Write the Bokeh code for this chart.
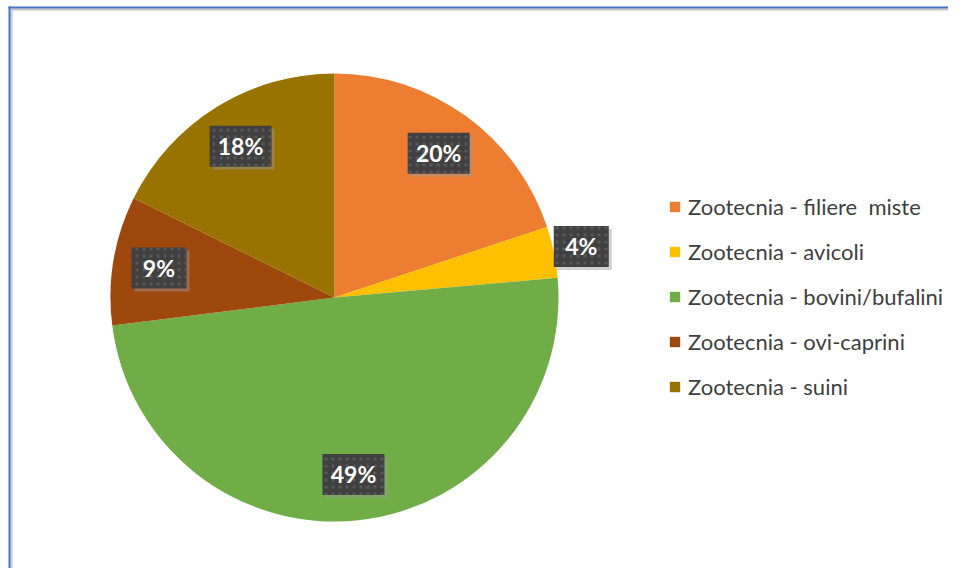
import math
from bokeh.plotting import figure
from bokeh.models import Range1d, ColumnDataSource, Legend, LegendItem
from bokeh.core.properties import value
from bokeh.embed import file_html
from bokeh.resources import INLINE

categories = [
    "Zootecnia - filiere  miste",
    "Zootecnia - avicoli",
    "Zootecnia - bovini/bufalini",
    "Zootecnia - ovi-caprini",
    "Zootecnia - suini",
]
shares = [19.9, 3.7, 49.4, 9.3, 17.7]
colors = ["#ED7D31", "#FFC000", "#70AD47", "#9E480E", "#997300"]

W, H = 948, 568
CX, CY, R = 334, 271, 224

total = sum(shares)
starts, ends, mids = [], [], []
cum = 0.0
for s in shares:
    a0 = cum / total
    cum += s
    a1 = cum / total
    starts.append(math.pi / 2 - a1 * 2 * math.pi)
    ends.append(math.pi / 2 - a0 * 2 * math.pi)
    mids.append(math.pi / 2 - (a0 + a1) / 2 * 2 * math.pi)

lab_r = [252 if s / total < 0.05 else 178 for s in shares]
lx = [CX + r * math.cos(m) for r, m in zip(lab_r, mids)]
ly = [CY + r * math.sin(m) for r, m in zip(lab_r, mids)]
labels = [f"{round(100 * s / total)}%" for s in shares]
box_w = [len(t) * 7 + 41 for t in labels]

p = figure(width=W, height=H, output_backend="svg", toolbar_location=None,
           x_range=Range1d(0, W), y_range=Range1d(0, H),
           min_border=0, outline_line_alpha=0)
p.axis.visible = False
p.grid.visible = False
p.background_fill_color = "white"
p.border_fill_color = "white"

# chart frame (top and left edges)
p.segment(x0=[10, 11], y0=[H - 9, H - 9], x1=[W, 11], y1=[H - 9, 0],
          line_color="#c8c8c8", line_width=2)
p.segment(x0=[8, 9], y0=[H - 7, H - 6], x1=[W, 9], y1=[H - 7, 0],
          line_color="#4472C4", line_width=2)

renderers = []
for i in range(len(shares)):
    r = p.wedge(x=CX, y=CY, radius=R, start_angle=starts[i], end_angle=ends[i],
                fill_color=colors[i], line_color=None)
    renderers.append(r)

src = ColumnDataSource(dict(x=lx, y=ly, t=labels, w=box_w,
                            sx=[x + 3 for x in lx], sy=[y - 3 for y in ly]))
p.rect(x="sx", y="sy", width="w", height=41, width_units="screen", height_units="screen",
       source=src, fill_color="#9a9a9a", fill_alpha=0.45, line_color=None)
p.rect(x="x", y="y", width="w", height=41, width_units="screen", height_units="screen",
       source=src, fill_color="#404040", line_color=None,
       hatch_pattern="dot", hatch_color="#575757", hatch_scale=7, hatch_weight=2)
p.text(x="x", y="y", text="t", source=src, text_color="white",
       text_font=value("Lato"), text_font_style="bold", text_font_size="23px",
       text_align="center", text_baseline="middle")

legend = Legend(items=[LegendItem(label=c, renderers=[r]) for c, r in zip(categories, renderers)],
                location=(668, 168), padding=0, margin=0, spacing=18,
                glyph_width=13, glyph_height=13, label_height=20, label_standoff=7,
                label_text_font="Lato", label_text_font_size="22px",
                label_text_color="#404040", border_line_alpha=0,
                background_fill_alpha=0)
p.add_layout(legend)

open("out.html", "w").write(file_html(p, INLINE))
